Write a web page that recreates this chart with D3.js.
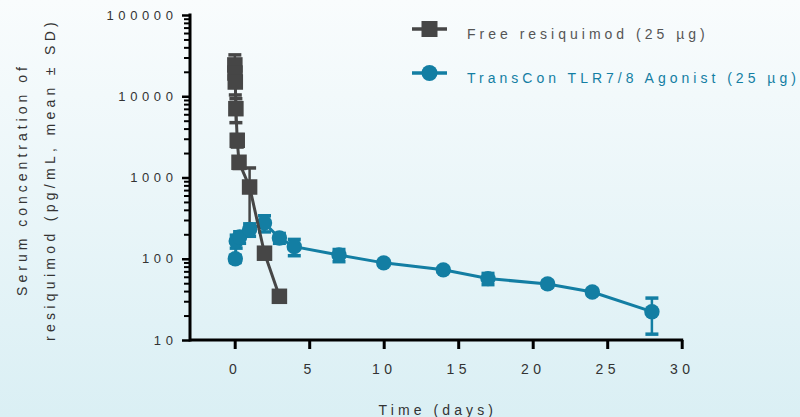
<!DOCTYPE html>
<html>
<head>
<meta charset="utf-8">
<script src="https://cdn.jsdelivr.net/npm/d3@7"></script>
<style>
  html, body { margin: 0; padding: 0; }
  body { width: 800px; height: 417px; overflow: hidden; }
  svg { display: block; font-family: "Liberation Sans", Arial, sans-serif; }
</style>
</head>
<body>
<svg id="chart" width="800" height="417"></svg>
<script>
// Free resiquimod (square markers)
const freeDays = [0.01, 0.02, 0.04, 0.08, 0.17, 0.29, 1, 2, 3];
const freeMean = [24300, 19300, 14970, 7030, 2870, 1540, 764, 117, 34.5];
const freeSD   = [8000, 3000, 4600, 2300, 500, 250, 546, 15, 4];

// TransCon TLR7/8 Agonist (circle markers)
const tlrDays = [0.04, 0.1, 0.33, 1, 2, 3, 4, 7, 10, 14, 17, 21, 24, 28];
const tlrMean = [100, 165, 185, 229, 276, 180, 141, 111, 89, 73, 57, 49, 39, 22.3];
const tlrSD   = [10, 30, 30, 40, 62, 25, 32, 19, 6, 5, 9, 4, 3, 10.5];

const xTicks = [0, 5, 10, 15, 20, 25, 30];
const yTicks = [10, 100, 1000, 10000, 100000];
const seriesNames = ["Free resiquimod (25 \u00b5g)", "TransCon TLR7/8 Agonist (25 \u00b5g)"];

const GRAY = "#464646";
const TEAL = "#137ea3";
const INK = "#333";

const svg = d3.select("#chart");

// background wash
const defs = svg.append("defs");
const grad = defs.append("linearGradient").attr("id", "bg").attr("x1", 0).attr("y1", 0).attr("x2", 0).attr("y2", 1);
grad.append("stop").attr("offset", "0%").attr("stop-color", "#f9fcfd");
grad.append("stop").attr("offset", "100%").attr("stop-color", "#daeff4");
svg.append("rect").attr("width", 800).attr("height", 417).attr("fill", "url(#bg)");

const x = d3.scaleLinear().domain([-3, 30]).range([190, 681.7]);
const y = d3.scaleLog().domain([10, 100000]).range([340, 15]);

// minor ticks on the log axis
const minorTicks = [];
for (let p = 10; p < 100000; p *= 10) for (let m = 2; m <= 9; m++) minorTicks.push(p * m);

const yMinor = svg.append("g").attr("transform", "translate(190,0)")
  .call(d3.axisLeft(y).tickValues(minorTicks).tickSize(6).tickFormat(""));
yMinor.select(".domain").remove();
yMinor.selectAll("line").attr("stroke", "#000").attr("stroke-width", 2);

const yAxis = svg.append("g").attr("transform", "translate(190,0)")
  .call(d3.axisLeft(y).tickValues(yTicks).tickSize(8).tickPadding(4.5).tickFormat(d3.format("d")));
yAxis.select(".domain").remove();
yAxis.selectAll("line").attr("stroke", "#000").attr("stroke-width", 2.5);
yAxis.selectAll("text").attr("font-size", 13).attr("fill", INK)
  .attr("font-family", "Liberation Sans, Arial, sans-serif").style("letter-spacing", "4.6px");

const xAxis = svg.append("g").attr("transform", "translate(0,340)")
  .call(d3.axisBottom(x).tickValues(xTicks).tickSize(9).tickPadding(15).tickFormat(d3.format("d")));
xAxis.select(".domain").remove();
xAxis.selectAll("line").attr("stroke", "#000").attr("stroke-width", 3);
xAxis.selectAll("text").attr("font-size", 14).attr("fill", INK)
  .attr("font-family", "Liberation Sans, Arial, sans-serif").style("letter-spacing", "4.5px");

// axis lines
svg.append("line").attr("x1", 190).attr("x2", 190).attr("y1", y(100000) - 1.5).attr("y2", y(10) + 1.5)
  .attr("stroke", "#000").attr("stroke-width", 3);
svg.append("line").attr("x1", 190).attr("x2", x(30) + 1.5).attr("y1", y(10)).attr("y2", y(10))
  .attr("stroke", "#000").attr("stroke-width", 3);

// axis titles
svg.append("text").attr("x", (x(-3) + x(30)) / 2 + 2).attr("y", 415)
  .attr("text-anchor", "middle").attr("font-size", 14).attr("fill", INK)
  .style("letter-spacing", "4.1px").text("Time (days)");

const yMid = (y(10) + y(100000)) / 2;
svg.append("text").attr("transform", `translate(26.5,${yMid + 2}) rotate(-90)`)
  .attr("text-anchor", "middle").attr("font-size", 14).attr("fill", INK)
  .style("letter-spacing", "4px").text("Serum concentration of");
svg.append("text").attr("transform", `translate(54.5,${yMid + 2}) rotate(-90)`)
  .attr("text-anchor", "middle").attr("font-size", 14).attr("fill", INK)
  .style("letter-spacing", "4.3px").text("resiquimod  (pg/mL, mean \u00b1 SD)");

function rows(days, mean, sd) {
  return days.map((d, i) => ({ d, m: mean[i], s: sd[i] }));
}
const freeRows = rows(freeDays, freeMean, freeSD);
const tlrRows = rows(tlrDays, tlrMean, tlrSD);

function errorBars(data, color) {
  const g = svg.append("g");
  const capW = 13;
  data.forEach(r => {
    const top = y(r.m + r.s);
    const bot = y(Math.max(r.m - r.s, 10.0001));
    const cx = x(r.d);
    g.append("line").attr("x1", cx).attr("x2", cx).attr("y1", top).attr("y2", bot)
      .attr("stroke", color).attr("stroke-width", 2.5);
    [top, bot].forEach(yy => g.append("line")
      .attr("x1", cx - capW / 2).attr("x2", cx + capW / 2).attr("y1", yy).attr("y2", yy)
      .attr("stroke", color).attr("stroke-width", 3.5));
  });
}

const line = d3.line().x(r => x(r.d)).y(r => y(r.m));

errorBars(tlrRows, TEAL);
errorBars(freeRows, GRAY);

// TransCon series
svg.append("path").datum(tlrRows).attr("d", line).attr("fill", "none")
  .attr("stroke", TEAL).attr("stroke-width", 3);
svg.append("g").selectAll("circle").data(tlrRows).join("circle")
  .attr("cx", r => x(r.d)).attr("cy", r => y(r.m)).attr("r", 7.7).attr("fill", TEAL);

// Free resiquimod series
svg.append("path").datum(freeRows).attr("d", line).attr("fill", "none")
  .attr("stroke", GRAY).attr("stroke-width", 3);
const sq = 15.5;
svg.append("g").selectAll("rect").data(freeRows).join("rect")
  .attr("x", r => x(r.d) - sq / 2).attr("y", r => y(r.m) - sq / 2)
  .attr("width", sq).attr("height", sq).attr("fill", GRAY);

// legend
const lg = svg.append("g");
lg.append("line").attr("x1", 412).attr("x2", 447).attr("y1", 29).attr("y2", 29)
  .attr("stroke", GRAY).attr("stroke-width", 3.5);
lg.append("rect").attr("x", 429.5 - 8).attr("y", 29 - 8).attr("width", 16).attr("height", 16).attr("fill", GRAY);
lg.append("text").attr("x", 467).attr("y", 39.3).attr("font-size", 14).attr("fill", "#555")
  .style("letter-spacing", "4px").text(seriesNames[0]);

lg.append("line").attr("x1", 412).attr("x2", 447).attr("y1", 73).attr("y2", 73)
  .attr("stroke", TEAL).attr("stroke-width", 3.5);
lg.append("circle").attr("cx", 429.5).attr("cy", 73).attr("r", 8).attr("fill", TEAL);
lg.append("text").attr("x", 467).attr("y", 82.7).attr("font-size", 14).attr("fill", TEAL)
  .style("letter-spacing", "4px").text(seriesNames[1]);
</script>
</body>
</html>
